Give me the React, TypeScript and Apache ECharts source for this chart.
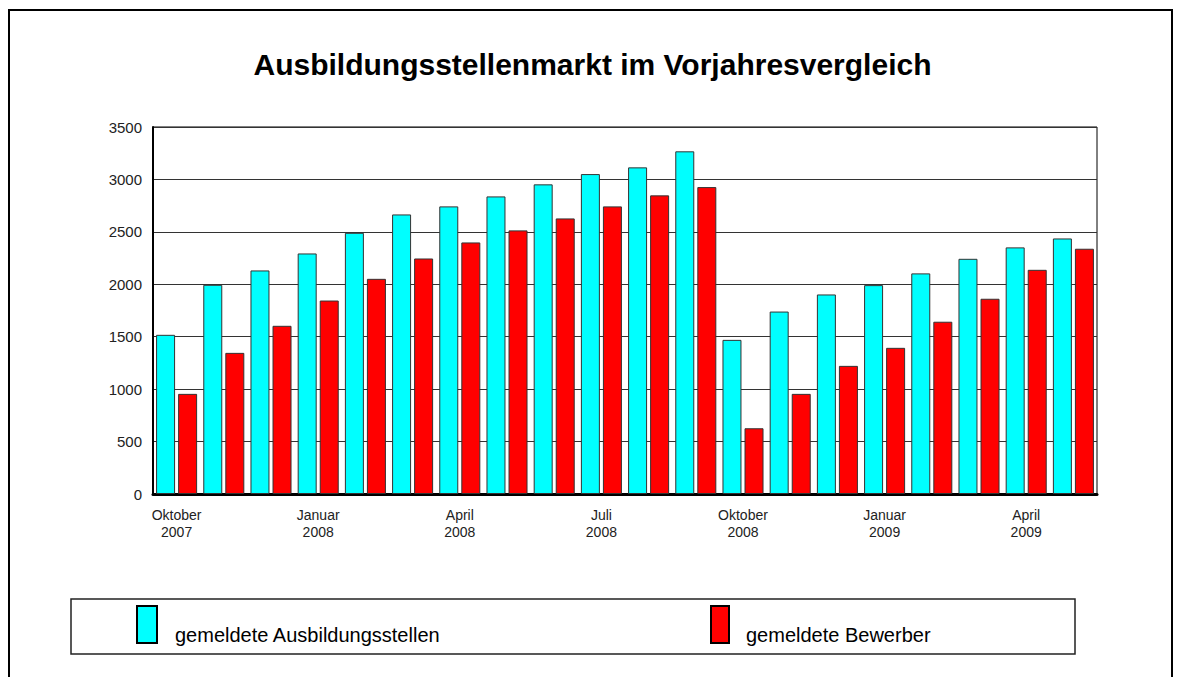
import React, { useEffect, useRef } from "react";
import * as echarts from "echarts";

const categories = [
  "Oktober\n2007", "November\n2007", "Dezember\n2007",
  "Januar\n2008", "Februar\n2008", "März\n2008",
  "April\n2008", "Mai\n2008", "Juni\n2008",
  "Juli\n2008", "August\n2008", "September\n2008",
  "Oktober\n2008", "November\n2008", "Dezember\n2008",
  "Januar\n2009", "Februar\n2009", "März\n2009",
  "April\n2009", "Mai\n2009",
];

const stellen = [1518, 1995, 2132, 2294, 2491, 2666, 2743, 2838, 2953, 3051, 3115, 3268, 1470, 1740, 1903, 1992, 2104, 2243, 2352, 2437];
const bewerber = [955, 1346, 1604, 1845, 2052, 2246, 2399, 2514, 2628, 2743, 2848, 2927, 627, 955, 1222, 1394, 1643, 1862, 2138, 2339];

const seriesNames = ["gemeldete Ausbildungsstellen", "gemeldete Bewerber"];
const colors = ["#00ffff", "#ff0000"];
const title = "Ausbildungsstellenmarkt im Vorjahresvergleich";

export default function App() {
  const ref = useRef<HTMLDivElement>(null);
  useEffect(() => {
    document.body.style.margin = "0";
    const chart = echarts.init(ref.current!, null, { renderer: "svg" });
    const font = "Liberation Sans, Arial, sans-serif";
    chart.setOption({
      animation: false,
      backgroundColor: "#ffffff",
      title: {
        text: title,
        left: "center",
        top: 44,
        textStyle: { fontFamily: font, fontSize: 30, fontWeight: "bold", color: "#000" },
      },
      grid: {
        left: 153, right: 88, top: 127, bottom: 183,
        show: true, borderColor: "#000", borderWidth: 1, backgroundColor: "transparent",
      },
      xAxis: {
        type: "category",
        data: categories,
        axisLine: { lineStyle: { color: "#000", width: 3 } },
        axisTick: { show: false },
        axisLabel: {
          interval: 2,
          fontFamily: font, fontSize: 14, color: "#222", lineHeight: 17, margin: 12,
        },
      },
      yAxis: {
        type: "value",
        min: 0, max: 3500, interval: 500,
        axisLine: { show: true, lineStyle: { color: "#000", width: 2 } },
        axisTick: { show: false },
        splitLine: { lineStyle: { color: "#333", width: 1 } },
        axisLabel: { fontFamily: font, fontSize: 15, color: "#222", margin: 11, formatter: (v: number) => String(v) },
      },
      series: [
        {
          name: seriesNames[0], type: "bar", data: stellen, barWidth: 19, barGap: "16%",
          itemStyle: { color: colors[0], borderColor: "#333", borderWidth: 1 },
        },
        {
          name: seriesNames[1], type: "bar", data: bewerber, barWidth: 19,
          itemStyle: { color: colors[1], borderColor: "#333", borderWidth: 1 },
        },
      ],
      graphic: [
        { type: "rect", shape: { x: 9, y: 10, width: 1163, height: 700 }, style: { fill: "none", stroke: "#000", lineWidth: 2 } },
        { type: "rect", shape: { x: 71, y: 599, width: 1004, height: 55 }, style: { fill: "none", stroke: "#222", lineWidth: 1.5 } },
        { type: "rect", shape: { x: 137, y: 606, width: 20, height: 37 }, style: { fill: colors[0], stroke: "#000", lineWidth: 2 } },
        { type: "text", x: 175, y: 635, style: { text: seriesNames[0], fontFamily: font, fontSize: 20, fill: "#000", verticalAlign: "middle" } },
        { type: "rect", shape: { x: 711, y: 606, width: 18, height: 37 }, style: { fill: colors[1], stroke: "#000", lineWidth: 2 } },
        { type: "text", x: 746, y: 635, style: { text: seriesNames[1], fontFamily: font, fontSize: 20, fill: "#000", verticalAlign: "middle" } },
      ],
    });
    return () => chart.dispose();
  }, []);
  return <div ref={ref} style={{ width: 1185, height: 677 }} />;
}
